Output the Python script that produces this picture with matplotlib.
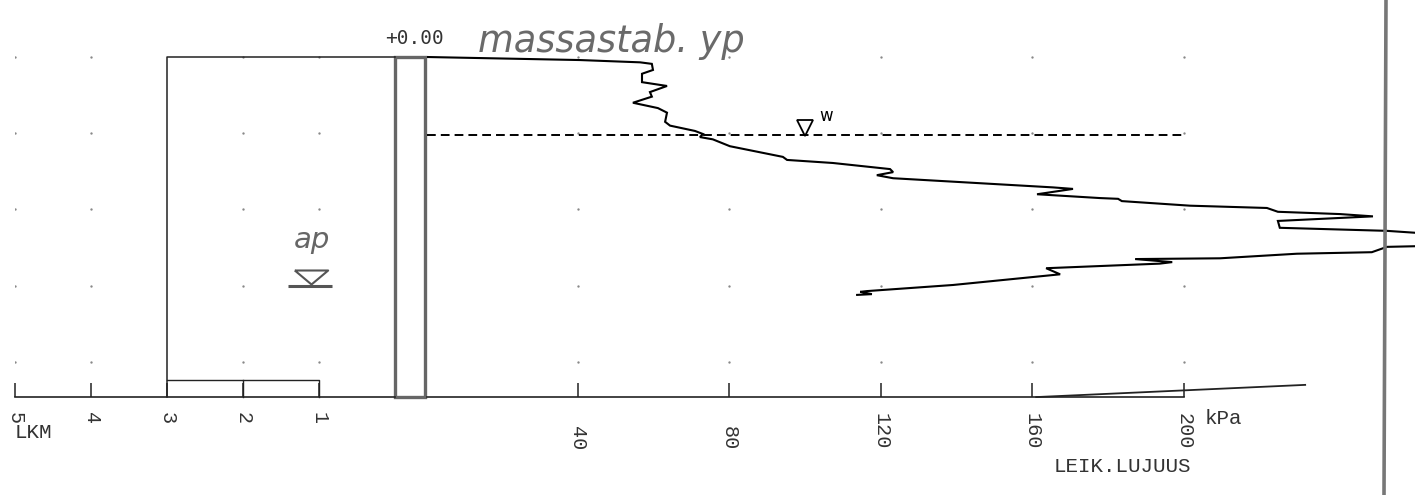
import matplotlib
matplotlib.use("Agg")
import matplotlib.pyplot as plt
from matplotlib.lines import Line2D
from matplotlib.patches import Rectangle

# ---------------- data ----------------
# upper shear-strength trace: kPa vs depth (m)
upper_kpa = [0.0, 40.5, 56.4, 59.5, 59.8, 56.9, 56.9, 63.5, 59.0, 59.5, 54.5, 61.1,
             63.5, 63.0, 64.3, 70.9, 73.0, 72.2, 75.6, 80.1, 94.1, 95.2, 107.3,
             122.4, 123.2, 118.9, 123.2, 165.4, 170.7, 161.2, 177.8, 182.6, 183.6,
             201.6, 221.9, 224.8, 241.2, 249.9, 224.8, 225.3, 253.6, 262.5]
upper_depth = [0.00, 0.04, 0.07, 0.09, 0.17, 0.22, 0.33, 0.38, 0.46, 0.52, 0.60, 0.67,
               0.73, 0.85, 0.90, 0.97, 1.01, 1.05, 1.08, 1.17, 1.31, 1.35, 1.39,
               1.47, 1.51, 1.55, 1.59, 1.71, 1.73, 1.80, 1.85, 1.86, 1.89,
               1.95, 1.98, 2.03, 2.06, 2.09, 2.15, 2.24, 2.28, 2.31]
# lower trace
lower_kpa = [262.5, 253.6, 249.6, 229.8, 209.5, 187.1, 196.9, 193.6, 163.6, 167.3,
             139.0, 116.3, 114.5, 117.6, 113.7]
lower_depth = [2.48, 2.49, 2.56, 2.58, 2.64, 2.65, 2.69, 2.71, 2.77, 2.85,
               2.99, 3.07, 3.08, 3.11, 3.12]
# small line near the bottom axis
base_kpa = [161.0, 232.0]
base_depth = [4.46, 4.30]
# LKM column outline
lkm_outline_x = [0, 3, 3]
lkm_outline_y = [0.0, 0.0, 4.46]
lkm_box_x = [3, 1, 1]
lkm_box_y = [4.24, 4.24, 4.46]
lkm_div_x = [2, 2]
lkm_div_y = [4.24, 4.46]

water_depth = 1.02
water_kpa = 100

kpa_ticks = [40, 80, 120, 160, 200]
kpa_labels = ["40", "80", "120", "160", "200"]
lkm_ticks = [5, 4, 3, 2, 1]
lkm_labels = ["5", "4", "3", "2", "1"]
grid_depths = [0, 1, 2, 3, 4]
grid_lkm = [5, 4, 2, 1]

# ---------------- figure ----------------
W, H = 1415, 495
fig = plt.figure(figsize=(W / 100, H / 100), dpi=100)
fig.patch.set_facecolor("white")

ybot_px = 397
ylim = (4.459, -0.7475)
bottom = (H - ybot_px) / H
height = ybot_px / H

axL = fig.add_axes([15 / W, bottom, 412 / W, height])
axR = fig.add_axes([426.5 / W, bottom, (W - 426.5) / W, height])

mono = "Liberation Mono"
for ax in (axL, axR):
    ax.set_ylim(*ylim)
    ax.patch.set_alpha(0)
    for s in ("top", "left", "right"):
        ax.spines[s].set_visible(False)
    ax.spines["bottom"].set_linewidth(1.2)
    ax.spines["bottom"].set_color("#222")
    ax.set_yticks([])
    ax.tick_params(axis="x", direction="in", length=10, width=1.1, color="#222",
                   labelrotation=-90, labelsize=14.5)

axL.tick_params(axis="x", pad=11)
axR.tick_params(axis="x", pad=38)

axL.set_xlim(5, -0.421)
axR.set_xlim(0, 261.0)
axL.spines["bottom"].set_bounds(5, 0)
axR.spines["bottom"].set_bounds(0, 200)

axL.set_xticks(lkm_ticks)
axL.set_xticklabels(lkm_labels, fontfamily=mono, color="#333")
axR.set_xticks(kpa_ticks)
axR.set_xticklabels(kpa_labels, fontfamily=mono, color="#333")
for lab in axR.get_xticklabels():
    lab.set_va("bottom")

# grid dots
for d in grid_depths:
    axL.plot(grid_lkm, [d] * len(grid_lkm), ls="none", marker="o", ms=1.7,
             color="#888", mec="none")
    axR.plot(kpa_ticks, [d] * len(kpa_ticks), ls="none", marker="o", ms=1.7,
             color="#888", mec="none")

# LKM column
axL.plot(lkm_outline_x, lkm_outline_y, color="#222", lw=1.1, clip_on=False)
axL.plot(lkm_box_x, lkm_box_y, color="#222", lw=1.0, clip_on=False)
axL.plot(lkm_div_x, lkm_div_y, color="#222", lw=1.0, clip_on=False)

# rod box
axL.add_patch(Rectangle((0, 0), -0.40, 4.459, fill=False, ec="#666", lw=2.4,
                        clip_on=False))

# traces
axR.plot(upper_kpa, upper_depth, color="black", lw=1.5, solid_joinstyle="miter")
axR.plot(lower_kpa, lower_depth, color="black", lw=1.5, solid_joinstyle="miter")
axR.plot(base_kpa, base_depth, color="#222", lw=1.3, clip_on=False)

# water table
axR.plot([0, 200], [water_depth, water_depth], color="black", lw=1.4,
         dashes=(4.5, 2.6))
axR.plot([water_kpa], [water_depth - 0.085], marker="v", ms=11.5, mfc="white",
         mec="black", mew=1.3, ls="none")
axR.text(water_kpa + 5.5, water_depth - 0.25, "w", fontsize=12, color="black",
         ha="center", va="center", family="DejaVu Sans")

# texts
fig.text(385 / W, 1 - 38 / H, "+0.00", fontsize=14, family="DejaVu Sans Mono",
         color="#333", ha="left", va="center")
fig.text(478 / W, 1 - 42 / H, "massastab. yp", fontsize=26.5, style="italic",
         family="DejaVu Sans", color="#6a6a6a", ha="left", va="center",
         fontweight="light")
fig.text(15 / W, 1 - 432 / H, "LKM", fontsize=15, family=mono, color="#333",
         ha="left", va="center")
fig.text(1205 / W, 1 - 418 / H, "kPa", fontsize=15, family=mono, color="#333",
         ha="left", va="center")
fig.text(1191 / W, 1 - 466 / H, "LEIK.LUJUUS", fontsize=15, family=mono,
         color="#333", ha="right", va="center")

# handwritten "ap" with groundwater symbol
axL.text(1.09, 2.40, "ap", fontsize=21, style="italic", color="#666",
         ha="center", va="center", family="DejaVu Sans")
flat_tri = [(-1.0, 0.42), (1.0, 0.42), (0.0, -0.42), (-1.0, 0.42)]
axL.plot([1.11], [2.88], marker=flat_tri, ms=24, mfc="none", mec="#555", mew=1.5,
         ls="none")
axL.plot([1.12], [3.0], marker="_", ms=31, mec="#555", mew=2.2, ls="none")

# right frame line
fig.add_artist(Line2D([1386 / W, 1384 / W], [1, 0], transform=fig.transFigure,
                      color="#777", lw=2.6))

fig.savefig("out.png", dpi=100, facecolor="white")
